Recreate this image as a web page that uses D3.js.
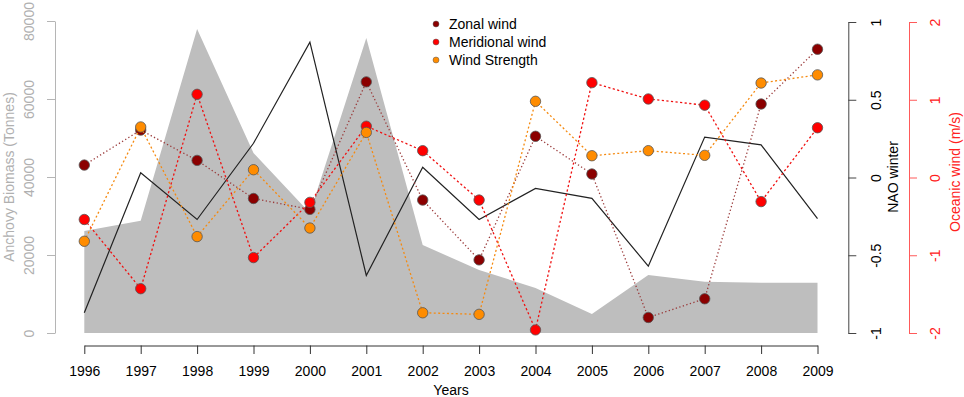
<!DOCTYPE html>
<html>
  <head>
    <title>Anchovy biomass and wind</title>
    <script src="https://cdn.jsdelivr.net/npm/d3@7/dist/d3.min.js"></script>
    <style>
      body { margin: 0; background: #fff; }
      text { font-family: "Liberation Sans", Arial, sans-serif; }
    </style>
  </head>
  <body>
    <svg width="964" height="397" id="mainsvg" style="display: block"></svg>
    <script>
      // data
      const years = [1996, 1997, 1998, 1999, 2000, 2001, 2002, 2003, 2004, 2005, 2006, 2007, 2008, 2009];
      const biomass = [26150, 28800, 77950, 46150, 30770, 75640, 22560, 16150, 11540, 4870, 14870, 13150, 12900, 12900];
      const nao = [-0.87, 0.03, -0.27, 0.22, 0.87, -0.63, 0.066, -0.27, -0.07, -0.134, -0.57, 0.26, 0.21, -0.265];
      const zonal = [0.16, 0.61, 0.22, -0.27, -0.41, 1.23, -0.29, -1.06, 0.53, 0.045, -1.8, -1.56, 0.945, 1.65];
      const meridional = [-0.54, -1.43, 1.07, -1.03, -0.32, 0.66, 0.345, -0.29, -1.96, 1.22, 1.01, 0.93, -0.31, 0.64];
      const strength = [-0.82, 0.65, -0.76, 0.1, -0.65, 0.58, -1.74, -1.76, 0.98, 0.28, 0.345, 0.285, 1.215, 1.32];

      const biomassTicks = [0, 20000, 40000, 60000, 80000];
      const naoTicks = [-1, -0.5, 0, 0.5, 1];
      const windTicks = [-2, -1, 0, 1, 2];

      const windSeries = [
        { name: "Zonal wind", values: zonal, color: "#8B0000", line: "#9a3a3a", dash: "1.3,2.4" },
        { name: "Meridional wind", values: meridional, color: "#FF0000", line: "#f01010", dash: "2.2,2.4" },
        { name: "Wind Strength", values: strength, color: "#FF8C00", line: "#f58a10", dash: "2,2.4" },
      ];

      const svg = d3.select("#mainsvg");

      const x = d3.scaleLinear().domain([1996, 2009]).range([84.3, 817.5]);
      const yB = d3.scaleLinear().domain([0, 80000]).range([333, 21]);
      const yN = d3.scaleLinear().domain([-1, 1]).range([333, 22]);
      const yW = d3.scaleLinear().domain([-2, 2]).range([333, 22]);

      // grey biomass area
      const area = d3
        .area()
        .x((d, i) => x(years[i]))
        .y0(yB(0))
        .y1((d) => yB(d));
      svg.append("path").datum(biomass).attr("fill", "#bebebe").attr("d", area);

      // NAO line
      const naoLine = d3
        .line()
        .x((d, i) => x(years[i]))
        .y((d) => yN(d));
      svg.append("path").datum(nao).attr("fill", "none").attr("stroke", "#222").attr("stroke-width", 1.2).attr("d", naoLine);

      // wind series: dotted line + circles
      const windLine = d3
        .line()
        .x((d, i) => x(years[i]))
        .y((d) => yW(d));

      windSeries.forEach((s) => {
        svg.append("path")
          .datum(s.values)
          .attr("fill", "none")
          .attr("stroke", s.line)
          .attr("stroke-width", 1.3)
          .attr("stroke-dasharray", s.dash)
          .attr("d", windLine);
        svg.append("g")
          .selectAll("circle")
          .data(s.values)
          .join("circle")
          .attr("cx", (d, i) => x(years[i]))
          .attr("cy", (d) => yW(d))
          .attr("r", 5.2)
          .attr("fill", s.color)
          .attr("stroke", "#555")
          .attr("stroke-width", 0.8);
      });

      // rotate the tick labels like R's las=0
      function rotateLabels(g, offset, color) {
        g.selectAll(".tick text")
          .attr("transform", "rotate(-90)")
          .attr("x", 0)
          .attr("y", offset)
          .attr("dy", "0.35em")
          .attr("text-anchor", "middle")
          .attr("fill", color)
          .attr("font-size", 14);
      }

      // left axis
      const gL = svg.append("g").attr("transform", "translate(55,0)")
        .call(d3.axisLeft(yB).tickValues(biomassTicks).tickSize(8).tickSizeOuter(0).tickFormat(d3.format("d")));
      gL.selectAll("path, line").attr("stroke", "#b5b5b5");
      rotateLabels(gL, -26, "#b0b0b0");

      // NAO axis
      const gN = svg.append("g").attr("transform", "translate(848.3,0)")
        .call(d3.axisRight(yN).tickValues(naoTicks).tickSize(8).tickSizeOuter(0).tickFormat((d) => d));
      gN.selectAll("path, line").attr("stroke", "#444");
      rotateLabels(gN, 28, "#000");

      // oceanic wind axis
      const gW = svg.append("g").attr("transform", "translate(909,0)")
        .call(d3.axisRight(yW).tickValues(windTicks).tickSize(8).tickSizeOuter(0).tickFormat((d) => d));
      gW.selectAll("path, line").attr("stroke", "#ff5a5a");
      rotateLabels(gW, 26, "#ff2020");

      // years axis
      const gX = svg.append("g").attr("transform", "translate(0,345.5)")
        .call(d3.axisBottom(x).tickValues(years).tickSize(8.5).tickSizeOuter(0).tickFormat(d3.format("d")));
      gX.selectAll("path, line").attr("stroke", "#333");
      gX.selectAll(".tick text").attr("y", 21).attr("fill", "#000").attr("font-size", 14);

      // axis titles
      svg.append("text")
        .attr("transform", "translate(14,177) rotate(-90)")
        .attr("text-anchor", "middle")
        .attr("fill", "#b0b0b0")
        .attr("font-size", 14)
        .text("Anchovy Biomass (Tonnes)");
      svg.append("text")
        .attr("transform", "translate(898,177) rotate(-90)")
        .attr("text-anchor", "middle")
        .attr("fill", "#000")
        .attr("font-size", 14)
        .text("NAO winter");
      svg.append("text")
        .attr("transform", "translate(960,172) rotate(-90)")
        .attr("text-anchor", "middle")
        .attr("fill", "#ff2020")
        .attr("font-size", 14)
        .text("Oceanic wind (m/s)");
      svg.append("text")
        .attr("x", 451)
        .attr("y", 395)
        .attr("text-anchor", "middle")
        .attr("fill", "#000")
        .attr("font-size", 14)
        .text("Years");

      // legend
      const legend = svg.append("g").attr("transform", "translate(436,24)");
      windSeries.forEach((s, i) => {
        legend.append("circle").attr("cx", 0).attr("cy", i * 18).attr("r", 3).attr("fill", s.color).attr("stroke", "#555").attr("stroke-width", 0.5);
        legend.append("text").attr("x", 13).attr("y", i * 18).attr("dy", "0.35em").attr("font-size", 14).attr("fill", "#000").text(s.name);
      });
    </script>
  </body>
</html>
